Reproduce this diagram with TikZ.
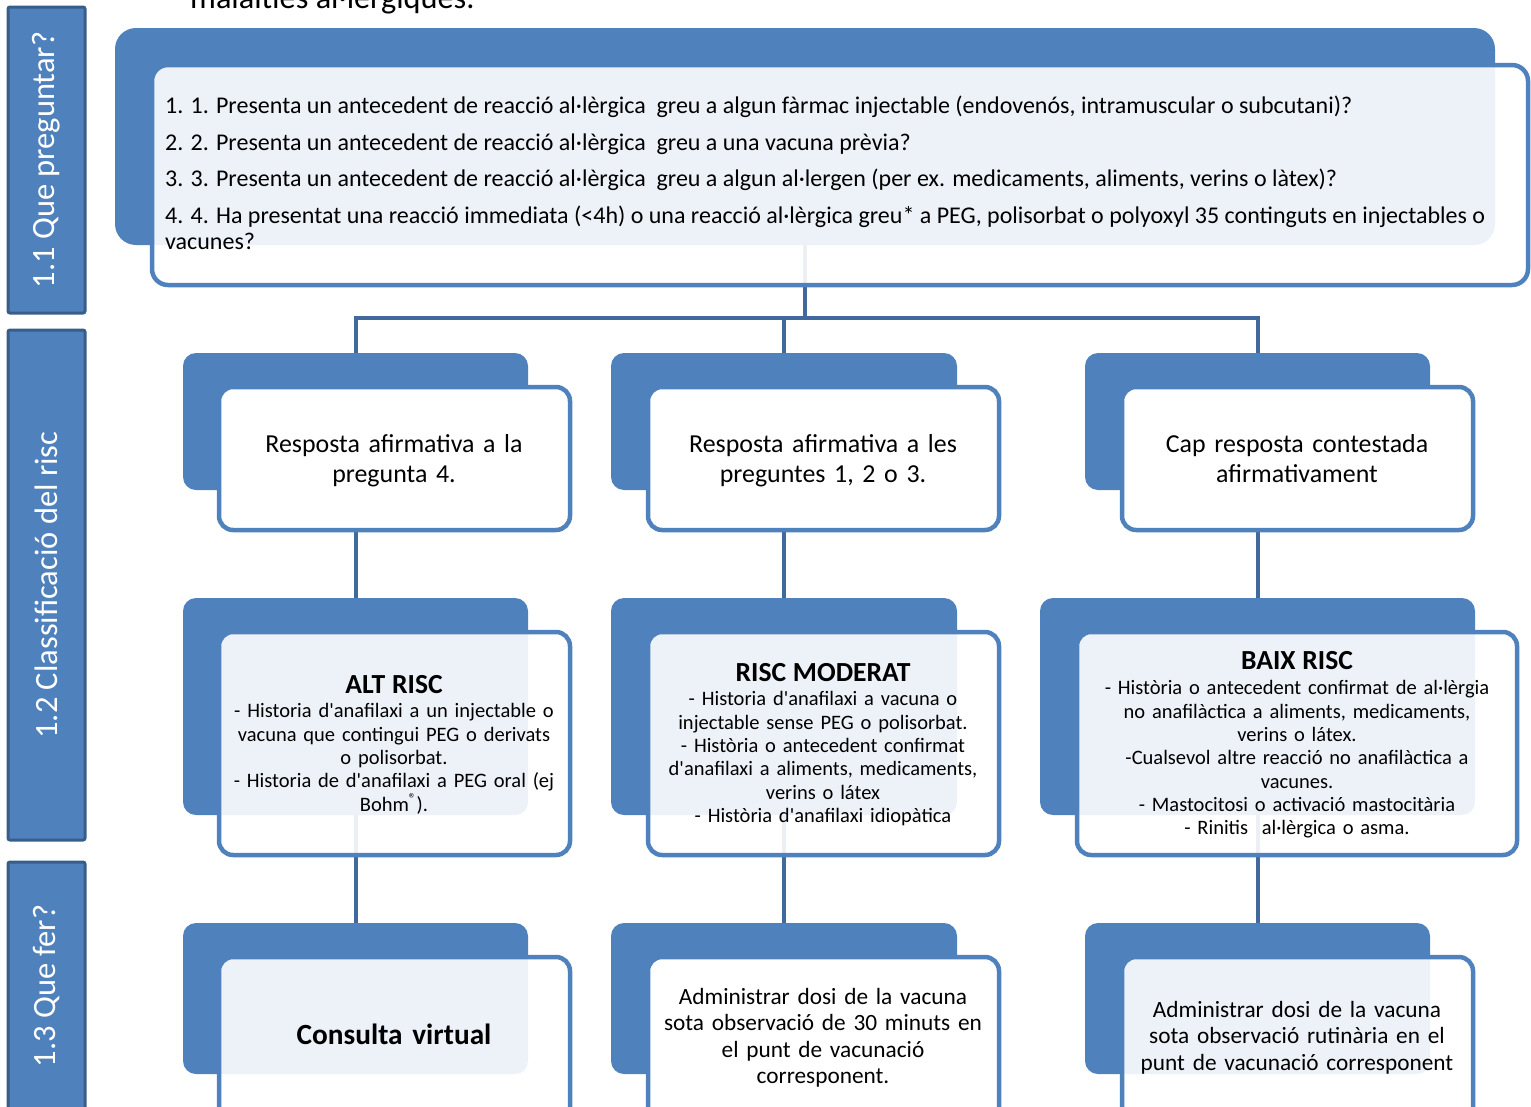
\documentclass[tikz,border=0pt]{standalone}
\usepackage{fontspec}
\setmainfont{Carlito}[Ligatures=TeXOff]
\definecolor{sblue}{HTML}{4F81BD}
\definecolor{cblue}{HTML}{41699C}
\definecolor{sdark}{HTML}{385D8A}
\newcommand\topfont{\fontsize{24}{26}\selectfont}
\newcommand\rowtwofont{\fontsize{25.9}{30}\selectfont}
\newcommand\rowthreefont{\fontsize{20.5}{23.3}\selectfont}
\newcommand\rowfourfont{\fontsize{23.3}{26.5}\selectfont}
\newcommand\titlefont{\fontsize{27.6}{30}\selectfont\bfseries}
\newcommand\sidefont{\fontsize{32.5}{36}\selectfont}
\begin{document}
\begin{tikzpicture}[x=1pt,y=-1pt,
  backbox/.style={fill=sblue, draw=none, rounded corners=13pt, inner sep=0pt, outer sep=0pt},
  frontbox/.style={draw=sblue, line width=4.5pt, rounded corners=14pt, fill=white, fill opacity=0.9, inner sep=0pt, outer sep=0pt},
  solidfront/.style={frontbox, fill opacity=1},
  conn/.style={draw=cblue, line width=4pt},
  side/.style={fill=sblue, draw=sdark, line width=3pt, rounded corners=2pt, inner sep=0pt},
  sidetext/.style={rotate=90, text=white, font=\sidefont, inner sep=0pt},
  txt/.style={anchor=base, text width=460pt, align=center, inner sep=0pt},
  qline/.style={anchor=base west, inner sep=0pt, font=\topfont}]
\clip (0,0) rectangle (1531,1106);
% cut-off heading
\node[anchor=base west, inner sep=0pt, font=\fontsize{32.3}{36}\selectfont] (head) at (190,8) {malalties al·lèrgiques.};
% side labels
\node[side, minimum width=77pt, minimum height=306pt] (s1) at (46.5,160) {};
\node[side, minimum width=77pt, minimum height=510pt] (s2) at (46.5,585) {};
\node[side, minimum width=77pt, minimum height=248pt] (s3) at (46.5,986) {};
\node[sidetext] (s1t) at (s1.center) {1.1 Que preguntar?};
\node[sidetext] (s2t) at (s2.center) {1.2 Classificació del risc};
\node[sidetext] (s3t) at (s3.center) {1.3 Que fer?};
% back boxes
\node[backbox, rounded corners=21pt, minimum width=1380pt, minimum height=217pt] (b0) at (805,136.5) {};
\node[backbox, minimum width=345pt, minimum height=137pt] (b11) at (355.5,421.5) {};
\node[backbox, minimum width=346pt, minimum height=137pt] (b12) at (784,421.5) {};
\node[backbox, minimum width=345pt, minimum height=137pt] (b13) at (1257.5,421.5) {};
\node[backbox, minimum width=345pt, minimum height=217pt] (b21) at (355.5,706.5) {};
\node[backbox, minimum width=346pt, minimum height=217pt] (b22) at (784,706.5) {};
\node[backbox, minimum width=435pt, minimum height=217pt] (b23) at (1257.5,706.5) {};
\node[backbox, minimum width=345pt, minimum height=151pt] (b31) at (355.5,998.5) {};
\node[backbox, minimum width=346pt, minimum height=151pt] (b32) at (784,998.5) {};
\node[backbox, minimum width=345pt, minimum height=151pt] (b33) at (1257.5,998.5) {};
% connectors
\coordinate (j) at (805,318);
\draw[conn] (b0.south) -- (j);
\draw[conn] (j) -| (b11.north);
\draw[conn] (j) -| (b12.north);
\draw[conn] (j) -| (b13.north);
\draw[conn] (b11.south) -- (b21.north);
\draw[conn] (b12.south) -- (b22.north);
\draw[conn] (b13.south) -- (b23.north);
\draw[conn] (b21.south) -- (b31.north);
\draw[conn] (b22.south) -- (b32.north);
\draw[conn] (b23.south) -- (b33.north);
% front boxes
\node[frontbox, rounded corners=16pt, minimum width=1376pt, minimum height=220pt] (f0) at (840,175) {};
\node[solidfront, minimum width=351pt, minimum height=143pt] (f11) at (394.5,458.5) {};
\node[solidfront, minimum width=351pt, minimum height=143pt] (f12) at (823.5,458.5) {};
\node[solidfront, minimum width=351pt, minimum height=143pt] (f13) at (1297.5,458.5) {};
\node[frontbox, minimum width=351pt, minimum height=223pt] (f21) at (394.5,743.5) {};
\node[frontbox, minimum width=351pt, minimum height=223pt] (f22) at (823.5,743.5) {};
\node[frontbox, minimum width=440pt, minimum height=223pt] (f23) at (1297,743.5) {};
\node[frontbox, minimum width=351pt, minimum height=170pt] (f31) at (394.5,1042) {};
\node[solidfront, minimum width=351pt, minimum height=170pt] (f32) at (823.5,1042) {};
\node[frontbox, minimum width=351pt, minimum height=170pt] (f33) at (1297.5,1042) {};
% top questions
\node[qline] (q1) at (165,113) {1. 1. Presenta un antecedent de reacció al·lèrgica\ \ greu a algun fàrmac injectable (endovenós, intramuscular o subcutani)?};
\node[qline] (q2) at (165,150) {2. 2. Presenta un antecedent de reacció al·lèrgica\ \ greu a una vacuna prèvia?};
\node[qline] (q3) at (165,186) {3. 3. Presenta un antecedent de reacció al·lèrgica\ \ greu a algun al·lergen (per ex. medicaments, aliments, verins o làtex)?};
\node[qline] (q4) at (165,223) {4. 4. Ha presentat una reacció immediata (<4h) o una reacció al·lèrgica greu* a PEG, polisorbat o polyoxyl 35 continguts en injectables o};
\node[qline] (q5) at (165,249) {vacunes?};
% row 2 texts
\node[txt, font=\rowtwofont] (t11) at (394,452) {Resposta afirmativa a la\\pregunta 4.};
\node[txt, font=\rowtwofont] (t12) at (823,452) {Resposta afirmativa a les\\preguntes 1, 2 o 3.};
\node[txt, font=\rowtwofont] (t13) at (1297,452) {Cap resposta contestada\\afirmativament};
% row 3 texts
\node[txt, font=\rowthreefont] (t21) at (394,693) {{\titlefont ALT RISC}\\[1.5pt]- Historia d'anafilaxi a un injectable o\\vacuna que contingui PEG o derivats\\o polisorbat.\\- Historia de d'anafilaxi a PEG oral (ej\\Bohm\textsuperscript{®}).};
\node[txt, font=\rowthreefont] (t22) at (823,681) {{\titlefont RISC MODERAT}\\[1.5pt]- Historia d'anafilaxi a vacuna o\\injectable sense PEG o polisorbat.\\- Història o antecedent confirmat\\d'anafilaxi a aliments, medicaments,\\verins o látex\\- Història d'anafilaxi idiopàtica};
\node[txt, font=\rowthreefont] (t23) at (1297,669) {{\titlefont BAIX RISC}\\[2.5pt]- Història o antecedent confirmat de al·lèrgia\\no anafilàctica a aliments, medicaments,\\verins o látex.\\-Cualsevol altre reacció no anafilàctica a\\vacunes.\\- Mastocitosi o activació mastocitària\\- Rinitis\ \ al·lèrgica o asma.};
% row 4 texts
\node[txt, font={\fontsize{29.3}{32}\selectfont\bfseries}] (t31) at (394,1044) {Consulta virtual};
\node[txt, font=\rowfourfont] (t32) at (823,1004) {Administrar dosi de la vacuna\\sota observació de 30 minuts en\\el punt de vacunació\\corresponent.};
\node[txt, font=\rowfourfont] (t33) at (1297,1017) {Administrar dosi de la vacuna\\sota observació rutinària en el\\punt de vacunació corresponent};
\end{tikzpicture}
\end{document}
